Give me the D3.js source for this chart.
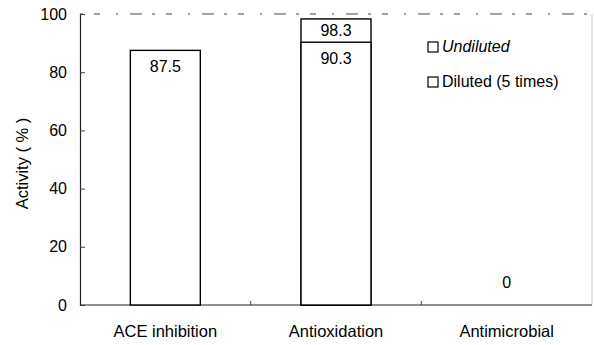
<!DOCTYPE html>
<html>
<head>
<meta charset="utf-8">
<script src="https://cdn.jsdelivr.net/npm/d3@7"></script>
<style>
  body { margin: 0; background: #fff; }
  svg { display: block; font-family: Arial, "Liberation Sans", sans-serif; }
</style>
</head>
<body>
<svg id="chart" width="594" height="345"></svg>
<script>
'use strict';

// data
var categories = ["ACE inhibition", "Antioxidation", "Antimicrobial"];
var undiluted  = [87.5, 98.3, 0];
var diluted    = [null, 90.3, null];
var yTicks     = [0, 20, 40, 60, 80, 100];
var legendKeys = ["Undiluted", "Diluted (5 times)"];

var svg = d3.select("#chart"),
    margin = {left: 80, right: 2, top: 14, bottom: 40},
    width  = +svg.attr("width") - margin.left - margin.right,
    height = +svg.attr("height") - margin.top - margin.bottom;

var g = svg.append("g").attr("transform", "translate(" + margin.left + "," + margin.top + ")");

var x = d3.scaleBand().domain(categories).range([0, width]).paddingInner(0).paddingOuter(0);
var y = d3.scaleLinear().domain([0, 100]).range([height, 0]);

var barW = x.bandwidth() * 0.41;

// frame: top edge looks broken in the scan, right edge faint
g.append("line")
    .attr("x1", 0).attr("x2", width).attr("y1", 0).attr("y2", 0)
    .attr("stroke", "#444").attr("stroke-width", 1.1)
    .attr("stroke-dasharray", "3,11,6,16,2,12,12,10");
g.append("line")
    .attr("x1", width).attr("x2", width).attr("y1", 0).attr("y2", height)
    .attr("stroke", "#ccc").attr("stroke-width", 1);

// y axis, ticks pointing inward
var yAxis = g.append("g")
    .call(d3.axisLeft(y).tickValues(yTicks).tickSize(-5).tickPadding(13));
yAxis.select(".domain").attr("stroke", "#222").attr("stroke-width", 1.2);
yAxis.selectAll(".tick line").attr("stroke", "#444");
yAxis.selectAll("text").attr("font-size", 16).attr("fill", "#000");

// x axis, ticks at band boundaries pointing up
var xAxis = g.append("g").attr("transform", "translate(0," + height + ")");
xAxis.append("line")
    .attr("x1", 0).attr("x2", width)
    .attr("stroke", "#222").attr("stroke-width", 1.2);
xAxis.selectAll(".bound")
    .data(categories.slice(1))
    .enter().append("line")
    .attr("class", "bound")
    .attr("x1", function(d){return x(d)}).attr("x2", function(d){return x(d)})
    .attr("y1", 0).attr("y2", -4)
    .attr("stroke", "#444");
xAxis.selectAll(".cat")
    .data(categories)
    .enter().append("text")
    .attr("class", "cat")
    .attr("x", function(d){return x(d) + x.bandwidth() / 2})
    .attr("y", 31.5)
    .attr("text-anchor", "middle")
    .attr("font-size", 16.5)
    .text(function(d){return d});

// y label
svg.append("text")
    .attr("transform", "translate(28," + (margin.top + height / 2 + 4) + ") rotate(-90)")
    .attr("text-anchor", "middle")
    .attr("font-size", 16.5)
    .text("Activity ( % )");

// bars: undiluted behind, diluted in front
function drawBars(values, cls) {
    var rows = categories.map(function(c, i){return {cat: c, v: values[i]}})
        .filter(function(d){return d.v !== null && d.v > 0});
    g.selectAll("." + cls)
        .data(rows)
        .enter().append("rect")
        .attr("class", cls)
        .attr("x", function(d){return x(d.cat) + (x.bandwidth() - barW) / 2})
        .attr("y", function(d){return y(d.v)})
        .attr("width", barW)
        .attr("height", function(d){return height - y(d.v)})
        .attr("fill", "#fff")
        .attr("stroke", "#000")
        .attr("stroke-width", 1.4);
}
drawBars(undiluted, "bar-u");
drawBars(diluted, "bar-d");

// value labels; an undiluted value sitting over a diluted bar is centred in its segment
function labelY(i, v, isTop) {
    if (v === 0) return y(0) - 17;
    if (isTop && diluted[i] !== null) return (y(v) + y(diluted[i])) / 2 + 5.5;
    return y(v) + 22;
}
function drawLabels(values, cls, isTop) {
    var rows = categories.map(function(c, i){return {cat: c, v: values[i], i: i}})
        .filter(function(d){return d.v !== null});
    g.selectAll("." + cls)
        .data(rows)
        .enter().append("text")
        .attr("class", cls)
        .attr("x", function(d){return x(d.cat) + x.bandwidth() / 2})
        .attr("y", function(d){return labelY(d.i, d.v, isTop)})
        .attr("text-anchor", "middle")
        .attr("font-size", 16)
        .text(function(d){return d.v});
}
drawLabels(undiluted, "lab-u", true);
drawLabels(diluted, "lab-d", false);

// legend
var legend = g.selectAll(".leg")
    .data(legendKeys)
    .enter().append("g")
    .attr("class", "leg")
    .attr("transform", function(d, i){return "translate(348," + (28 + i * 35) + ")"});
legend.append("rect")
    .attr("width", 10).attr("height", 10)
    .attr("fill", "#fff").attr("stroke", "#000").attr("stroke-width", 1.2);
legend.append("text")
    .attr("x", 14).attr("y", 10)
    .attr("font-size", 16)
    .attr("font-style", function(d, i){return i == 0 ? "italic" : "normal"})
    .text(function(d){return d});
</script>
</body>
</html>
